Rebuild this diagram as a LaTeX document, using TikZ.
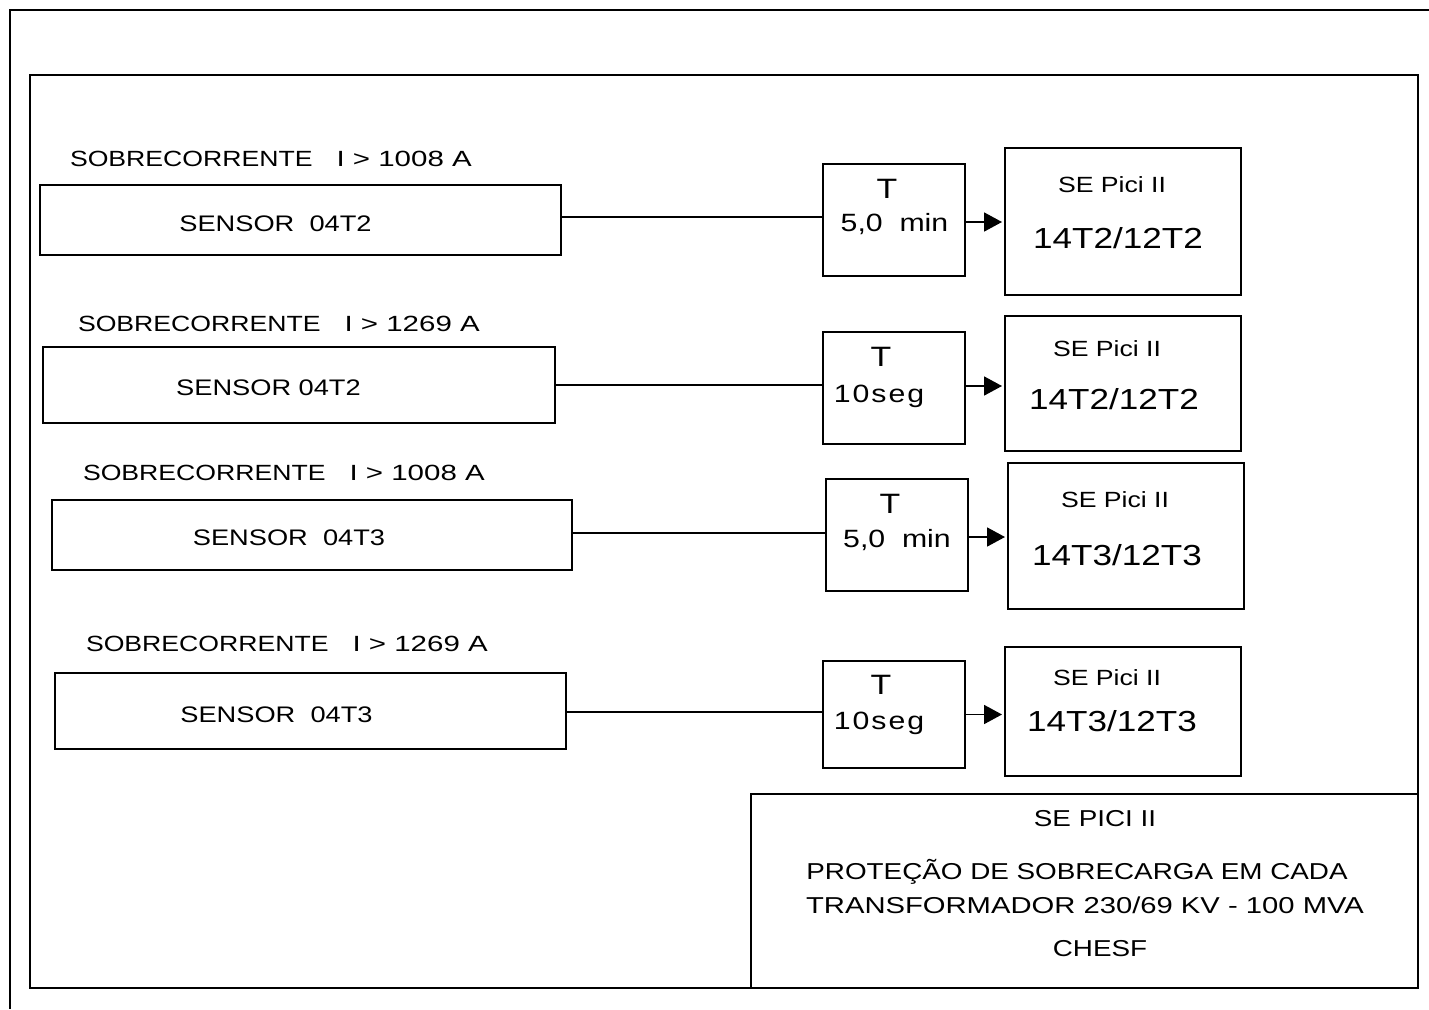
\documentclass[tikz,border=0pt]{standalone}
\usepackage{fontspec}
\setmainfont[FakeStretch=1.21]{Liberation Sans}
\newfontfamily\numfont[FakeStretch=1.34]{Liberation Sans}
\newfontfamily\widefont[FakeStretch=1.27]{Liberation Sans}
\usetikzlibrary{arrows.meta}
\newcommand{\fsz}[1]{\fontsize{#1}{#1}\selectfont}
\begin{document}
\begin{tikzpicture}[x=1pt,y=-1pt,line width=2pt,
  box/.style={draw,line width=2pt,inner sep=0pt,outer sep=0pt},
  txt/.style={inner sep=0pt,outer sep=0pt,anchor=base},
  lbl/.style={inner sep=0pt,outer sep=0pt,anchor=base west,font=\fsz{22}},
  sens/.style={txt,font=\fsz{22.5}},
  tbig/.style={txt,font=\fsz{28}},
  tval/.style={txt,font=\fsz{25}},
  sesm/.style={txt,font=\fsz{22}},
  sebig/.style={txt,font=\fsz{29}},
  note/.style={txt,font=\fsz{23}},
  conn/.style={line width=1.8pt},
  arr/.style={line width=1.8pt,-{Triangle[length=18pt,width=19pt]},shorten >=3pt}]
\useasboundingbox (0,0) rectangle (1429,1009);
% outer frame (only top and left visible)
\draw[line width=2.5pt] (1429,10) -- (10,10) -- (10,1009);
% inner frame
\draw[line width=2.2pt] (30,75) rectangle (1418,988);
% title block
\node[box,minimum width=667pt,minimum height=194pt] (tb) at (1084.5,891) {};
\node[note] (tb1) at (1095,826) {SE PICI II};
\node[note] (tb2) at (1077,879) {PROTEÇÃO DE SOBRECARGA EM CADA};
\node[note] (tb3) at (1085,913) {\widefont TRANSFORMADOR 230/69 KV - 100 MVA};
\node[note] (tb4) at (1100,956) {CHESF};

% ---------- row 1
\node[lbl] (l1) at (70,166) {SOBRECORRENTE\hspace{24pt}{\numfont I > 1008 A}};
\node[box,minimum width=521pt,minimum height=70pt] (s1) at (300.5,220) {};
\node[sens] (s1t) at (275.5,231) {SENSOR~~04T2};
\node[box,minimum width=142pt,minimum height=112pt] (t1) at (894,220) {};
\node[tbig] (t1a) at (887,198) {T};
\node[tval] (t1b) at (894.5,231) {5,0~~min};
\node[box,minimum width=236pt,minimum height=147pt] (e1) at (1123,221.5) {};
\node[sesm] (e1a) at (1112,192) {SE Pici II};
\node[sebig] (e1b) at (1118,248.5) {14T2/12T2};
\draw[conn] ([yshift=3pt]s1.east) -- ([yshift=3pt]s1.east -| t1.west);
\draw[arr] ([yshift=-2pt]t1.east) -- ([yshift=-2pt]t1.east -| e1.west);

% ---------- row 2
\node[lbl] (l2) at (78,331) {SOBRECORRENTE\hspace{24pt}{\numfont I > 1269 A}};
\node[box,minimum width=512pt,minimum height=76pt] (s2) at (299,385) {};
\node[sens] (s2t) at (268.5,395) {SENSOR~04T2};
\node[box,minimum width=142pt,minimum height=112pt] (t2) at (894,388) {};
\node[tbig] (t2a) at (881,366) {T};
\node[tval] (t2b) at (879,402) {\addfontfeature{LetterSpace=8}10seg};
\node[box,minimum width=236pt,minimum height=135pt] (e2) at (1123,383.5) {};
\node[sesm] (e2a) at (1107,356) {SE Pici II};
\node[sebig] (e2b) at (1114,409.5) {14T2/12T2};
\draw[conn] (s2.east) -- (s2.east -| t2.west);
\draw[arr] ([yshift=2pt]t2.east) -- ([yshift=2pt]t2.east -| e2.west);

% ---------- row 3
\node[lbl] (l3) at (83,480) {SOBRECORRENTE\hspace{24pt}{\numfont I > 1008 A}};
\node[box,minimum width=520pt,minimum height=70pt] (s3) at (312,535) {};
\node[sens] (s3t) at (289,545) {SENSOR~~04T3};
\node[box,minimum width=142pt,minimum height=112pt] (t3) at (897,535) {};
\node[tbig] (t3a) at (890,513) {T};
\node[tval] (t3b) at (897,547) {5,0~~min};
\node[box,minimum width=236pt,minimum height=146pt] (e3) at (1126,536) {};
\node[sesm] (e3a) at (1115,507) {SE Pici II};
\node[sebig] (e3b) at (1117,565.5) {14T3/12T3};
\draw[conn] ([yshift=2pt]s3.east) -- ([yshift=2pt]s3.east -| t3.west);
\draw[arr] ([yshift=-2pt]t3.east) -- ([yshift=-2pt]t3.east -| e3.west);

% ---------- row 4
\node[lbl] (l4) at (86,651) {SOBRECORRENTE\hspace{24pt}{\numfont I > 1269 A}};
\node[box,minimum width=511pt,minimum height=76pt] (s4) at (310.5,711) {};
\node[sens] (s4t) at (276.5,722) {SENSOR~~04T3};
\node[box,minimum width=142pt,minimum height=107pt] (t4) at (894,714.5) {};
\node[tbig] (t4a) at (881,694) {T};
\node[tval] (t4b) at (879,729) {\addfontfeature{LetterSpace=8}10seg};
\node[box,minimum width=236pt,minimum height=129pt] (e4) at (1123,711.5) {};
\node[sesm] (e4a) at (1107,685) {SE Pici II};
\node[sebig] (e4b) at (1112,731.5) {14T3/12T3};
\draw[conn] ([yshift=-1pt]s4.east) -- ([yshift=-1pt]s4.east -| t4.west);
\draw[arr] (t4.east) -- (t4.east -| e4.west);
\end{tikzpicture}
\end{document}
